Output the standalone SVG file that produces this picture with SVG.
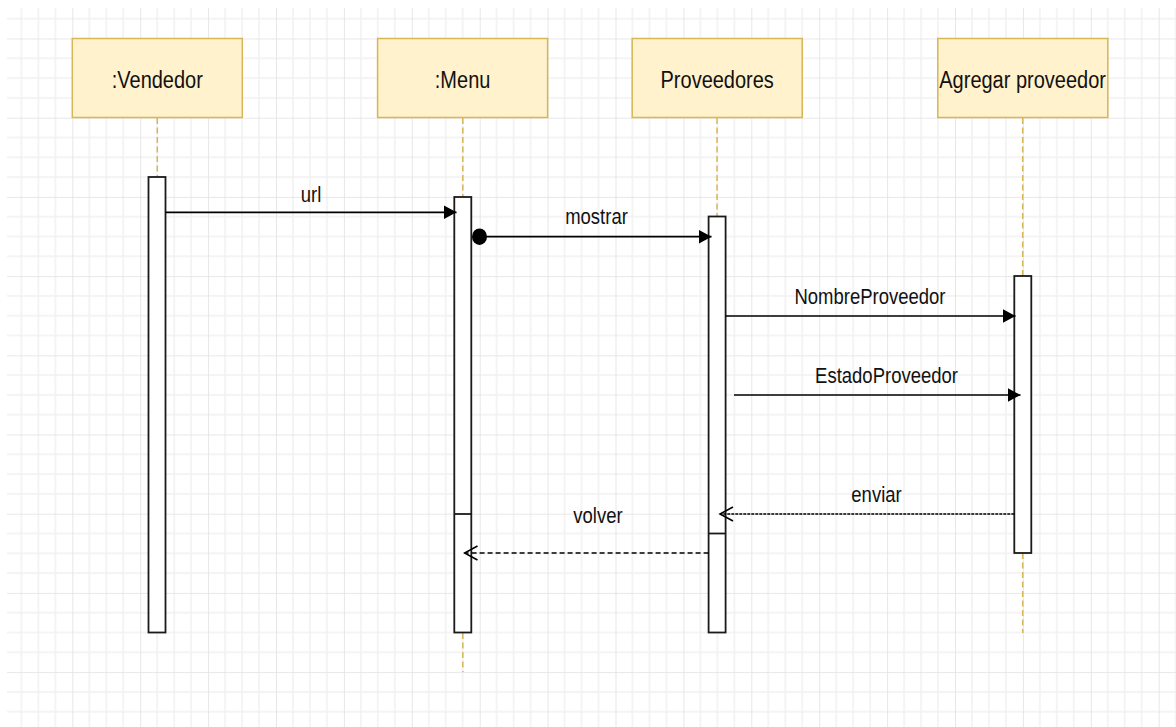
<svg xmlns="http://www.w3.org/2000/svg" width="1176" height="727" viewBox="0 0 1176 727">
<defs>
<pattern id="grid" patternUnits="userSpaceOnUse" x="4.4" y="-40.7" width="67.9" height="79.2">
<g stroke="#f1f1f1" stroke-width="1.5">
<line x1="16.98" y1="0" x2="16.98" y2="79.2"/>
<line x1="33.95" y1="0" x2="33.95" y2="79.2"/>
<line x1="50.93" y1="0" x2="50.93" y2="79.2"/>
<line x1="0" y1="19.8" x2="67.9" y2="19.8"/>
<line x1="0" y1="39.6" x2="67.9" y2="39.6"/>
<line x1="0" y1="59.4" x2="67.9" y2="59.4"/>
</g>
<g stroke="#e1e1e1" stroke-width="1.6">
<line x1="0" y1="0" x2="0" y2="79.2"/>
<line x1="0" y1="0" x2="67.9" y2="0"/>
</g>
</pattern>
<marker id="block" markerUnits="userSpaceOnUse" markerWidth="15" markerHeight="16" refX="13" refY="7.5" orient="auto">
<path d="M0,0.5 L13,7.5 L0,14.5 Z" fill="#000"/>
</marker>
<marker id="open" markerUnits="userSpaceOnUse" markerWidth="16" markerHeight="18" refX="14" refY="8" orient="auto">
<path d="M1,1 L14,8 L1,15" fill="none" stroke="#000" stroke-width="1.6"/>
</marker>
</defs>
<style>
.head{fill:#fff2cc;stroke:#d6b656;stroke-width:1.5}
.ht{font-family:"Liberation Sans",Arial,sans-serif;font-size:20px;fill:#111;text-anchor:middle}
.lt{font-family:"Liberation Sans",Arial,sans-serif;font-size:18.5px;fill:#111;text-anchor:middle}
.life{stroke:#d6b656;stroke-width:1.5;stroke-dasharray:6 3.5;fill:none}
.act{fill:#fff;stroke:#1a1a1a;stroke-width:1.8}
.msg{stroke:#000;stroke-width:1.7;fill:none}
</style>
<rect x="0" y="0" width="1176" height="727" fill="#fff"/>
<rect x="7" y="8" width="1169" height="719" fill="url(#grid)"/>

<g id="vendedor">
<rect class="head" x="72.3" y="38.5" width="170" height="79"/>
<text class="ht" transform="translate(157.3,87.7) scale(1,1.167)">:Vendedor</text>
<line class="life" x1="157.3" y1="118" x2="157.3" y2="177"/>
<rect class="act" x="148.5" y="177" width="17" height="455.5"/>
</g>

<g id="menu">
<rect class="head" x="377.6" y="38.5" width="170" height="79"/>
<text class="ht" transform="translate(462.6,87.7) scale(1,1.167)">:Menu</text>
<line class="life" x1="462.8" y1="118" x2="462.8" y2="197"/>
<line class="life" x1="462.8" y1="633" x2="462.8" y2="672"/>
<rect class="act" x="454.3" y="197" width="17" height="435.5"/>
<line x1="454.3" y1="514" x2="471.3" y2="514" stroke="#1a1a1a" stroke-width="1.8"/>
</g>

<g id="proveedores">
<rect class="head" x="632.2" y="38.5" width="170" height="79"/>
<text class="ht" transform="translate(717.2,87.7) scale(1,1.167)">Proveedores</text>
<line class="life" x1="717" y1="118" x2="717" y2="216.5"/>
<rect class="act" x="708.6" y="216.5" width="17" height="416"/>
<line x1="708.6" y1="533.5" x2="725.6" y2="533.5" stroke="#1a1a1a" stroke-width="1.8"/>
</g>

<g id="agregar">
<rect class="head" x="937.8" y="38.5" width="170" height="79"/>
<text class="ht" transform="translate(1022.6,87.7) scale(1,1.167)">Agregar proveedor</text>
<line class="life" x1="1022.7" y1="118" x2="1022.7" y2="276"/>
<line class="life" x1="1022.7" y1="553" x2="1022.7" y2="633"/>
<rect class="act" x="1014.3" y="276" width="17" height="277"/>
</g>

<g id="connectors">
<line class="msg" x1="165.5" y1="212.3" x2="456.5" y2="212.3" marker-end="url(#block)"/>
<text class="lt" transform="translate(311,201.5) scale(1,1.167)">url</text>

<ellipse cx="479.5" cy="236.7" rx="7.5" ry="8.3" fill="#000"/>
<line class="msg" x1="479.5" y1="236.7" x2="711.5" y2="236.7" marker-end="url(#block)"/>
<text class="lt" transform="translate(596.5,224.3) scale(1,1.167)">mostrar</text>

<line class="msg" x1="725.6" y1="316" x2="1015.5" y2="316" marker-end="url(#block)"/>
<text class="lt" transform="translate(870,304.3) scale(1,1.167)">NombreProveedor</text>

<line class="msg" x1="734" y1="395" x2="1020.5" y2="395" marker-end="url(#block)"/>
<text class="lt" transform="translate(886.5,383.3) scale(1,1.167)">EstadoProveedor</text>

<line class="msg" x1="1014.3" y1="514" x2="720" y2="514" stroke-dasharray="3 1" marker-end="url(#open)"/>
<text class="lt" transform="translate(876.5,502) scale(1,1.167)">enviar</text>

<line class="msg" x1="708.6" y1="553" x2="464.5" y2="553" stroke-dasharray="5 3" marker-end="url(#open)"/>
<text class="lt" transform="translate(598,523) scale(1,1.167)">volver</text>
</g>
</svg>
